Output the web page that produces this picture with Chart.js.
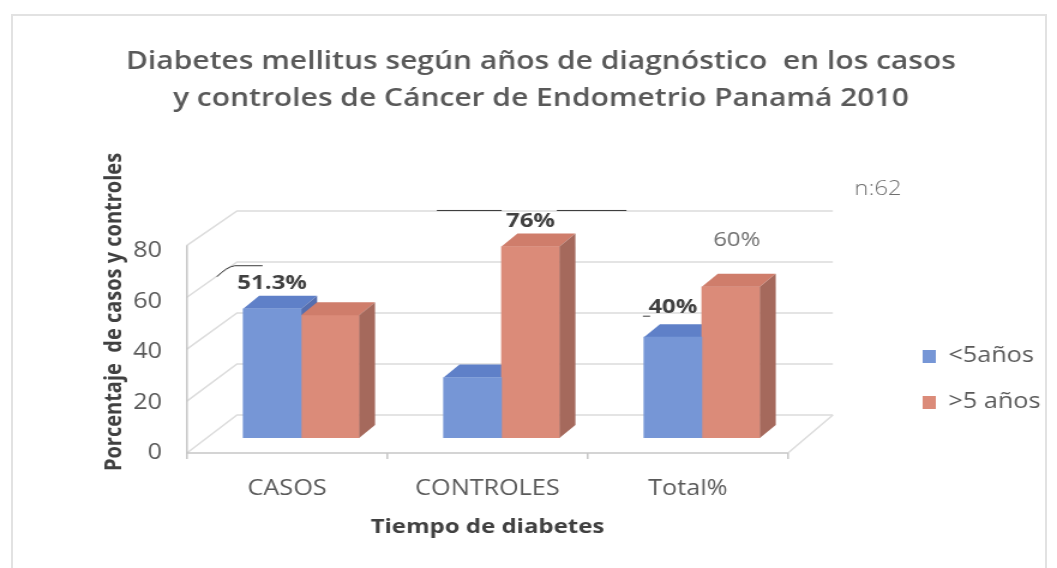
<!DOCTYPE html>
<html lang="es">
<head>
<meta charset="utf-8">
<title>Diabetes mellitus según años de diagnóstico</title>
<script src="https://cdn.jsdelivr.net/npm/chart.js@4.4.0/dist/chart.umd.min.js"></script>
<style>
  html, body { margin: 0; padding: 0; background: #fff; }
  #marco { position: relative; width: 1057px; height: 568px; overflow: hidden; }
  #borde { position: absolute; left: 11px; top: 14px; width: 1032px; height: 600px;
           border: 2px solid #e2e2e2; }
  #grafico { position: absolute; left: 0; top: 0; }
</style>
</head>
<body>
<div id="marco">
  <div id="borde"></div>
  <canvas id="grafico" width="881" height="568" style="width:1057px;height:568px"></canvas>
</div>
<script>
// datos del gráfico
const categorias = ['CASOS', 'CONTROLES', 'Total%'];
const nombresSeries = ['<5años', '>5 años'];
const menosDe5 = [51.3, 24, 40];
const masDe5 = [48.7, 76, 60];
const marcasY = [0, 20, 40, 60, 80];
const totalMuestra = 62;

// profundidad del efecto 3D
const DX = 13.3, DY = 13;

const caras = [
    { top: '#5f80c8', side: '#556eaf' },
    { top: '#cf7d6b', side: '#a5695c' }
];

function poligono(ctx, pts) {
    ctx.beginPath();
    ctx.moveTo(pts[0][0], pts[0][1]);
    for (let i = 1; i < pts.length; i++) ctx.lineTo(pts[i][0], pts[i][1]);
    ctx.closePath();
    ctx.fill();
}

function dibujarCaras(chart, di) {
    const ctx = chart.ctx;
    const meta = chart.getDatasetMeta(di);
    ctx.save();
    meta.data.forEach(bar => {
        const { x, y, base, width } = bar.getProps(['x', 'y', 'base', 'width'], true);
        const l = x - width / 2, r = x + width / 2;
        ctx.fillStyle = caras[di].top;
        poligono(ctx, [[l, y], [l + DX, y - DY], [r + DX, y - DY], [r, y]]);
        ctx.fillStyle = caras[di].side;
        poligono(ctx, [[r, y], [r + DX, y - DY], [r + DX, base - DY], [r, base]]);
    });
    ctx.restore();
}

// paredes, piso y rejilla en perspectiva
const paredes = {
    id: 'paredes',
    beforeDatasetsDraw(chart) {
        const { ctx, chartArea: a, scales: { x, y } } = chart;
        const yz = y.getPixelForValue(0);
        const frente = v => yz + 15 - (yz - y.getPixelForValue(v)) * 1.03;
        const fondo = v => yz - 23 - (yz - y.getPixelForValue(v)) * 1.012;
        const fx0 = a.left + 41.7, fx1 = a.right + 37.4;
        ctx.save();
        ctx.lineWidth = 1.5;
        ctx.strokeStyle = '#dcdcdc';
        marcasY.forEach(v => {
            ctx.beginPath();
            ctx.moveTo(a.left, frente(v));
            ctx.lineTo(fx0, fondo(v));
            ctx.lineTo(fx1, fondo(v));
            ctx.stroke();
        });
        ctx.beginPath();
        ctx.moveTo(fx1, fondo(0));
        ctx.lineTo(a.right, frente(0));
        ctx.stroke();
        ctx.strokeStyle = '#c6c6c6';
        ctx.beginPath();
        ctx.moveTo(a.right, frente(0));
        ctx.lineTo(a.left, frente(0));
        ctx.lineTo(a.left, frente(80));
        ctx.stroke();
        for (let k = 0; k <= categorias.length; k++) {
            const px = x.getPixelForValue(k - 0.5);
            ctx.beginPath();
            ctx.moveTo(px, frente(0));
            ctx.lineTo(px, frente(0) + 6);
            ctx.stroke();
        }
        ctx.restore();
    }
};

const barras3d = {
    id: 'barras3d',
    beforeDatasetDraw(chart, args) {
        if (args.index === 1) dibujarCaras(chart, 0);
    },
    afterDatasetDraw(chart, args) {
        if (args.index === 1) dibujarCaras(chart, 1);
    }
};

// etiquetas de porcentaje y nota n
const etiquetas = {
    id: 'etiquetas',
    afterDatasetsDraw(chart, args, opts) {
        const { ctx, chartArea: a } = chart;
        ctx.save();
        ctx.textAlign = 'center';
        ctx.textBaseline = 'middle';
        opts.items.forEach(it => {
            const bar = chart.getDatasetMeta(it.serie).data[it.idx];
            const valor = chart.data.datasets[it.serie].data[it.idx].y;
            const cx = bar.x + it.dx, cy = bar.y + it.dy;
            ctx.font = it.peso + ' 20px "Open Sans"';
            ctx.fillStyle = it.color;
            ctx.fillText(valor + '%', cx, cy);
            ctx.strokeStyle = '#3a3a3a';
            ctx.lineWidth = 1;
            ctx.beginPath();
            if (it.guia === 'curva') {
                ctx.moveTo(cx - 46, cy - 7);
                ctx.quadraticCurveTo(cx - 38, cy - 17, cx - 31, cy - 18);
                ctx.lineTo(cx - 8, cy - 18);
            } else if (it.guia === 'linea') {
                ctx.moveTo(cx - 78, cy - 11);
                ctx.lineTo(cx - 24, cy - 11);
                ctx.moveTo(cx + 22, cy - 11);
                ctx.lineTo(cx + 80, cy - 11);
            } else if (it.guia === 'corta') {
                ctx.moveTo(cx - 25, cy + 9);
                ctx.lineTo(cx - 19, cy + 9);
            }
            ctx.stroke();
        });
        ctx.font = '300 20px "Open Sans"';
        ctx.fillStyle = '#6f6f6f';
        ctx.fillText('n:' + totalMuestra, a.right + 75, a.top + 3);
        ctx.restore();
    }
};

const ctx = document.getElementById('grafico').getContext('2d');
Chart.defaults.font.family = '"Open Sans", sans-serif';
Chart.defaults.color = '#595959';

new Chart(ctx, {
    type: 'bar',
    data: {
        labels: categorias,
        datasets: [{
            label: nombresSeries[0],
            data: menosDe5.map((v, i) => ({ x: i, y: v })),
            backgroundColor: '#7696d6',
            xAxisID: 'xb'
        }, {
            label: nombresSeries[1],
            data: masDe5.map((v, i) => ({ x: i, y: v })),
            backgroundColor: '#db8b79',
            xAxisID: 'xb'
        }]
    },
    plugins: [paredes, barras3d, etiquetas],
    options: {
        responsive: false,
        devicePixelRatio: 1,
        animation: false,
        barThickness: 48.3,
        layout: { padding: { left: 24.6, right: 4, top: 0, bottom: 0 } },
        scales: {
            xb: {
                type: 'linear',
                display: false,
                offset: false,
                min: -0.57,
                max: 2.43
            },
            x: {
                type: 'category',
                labels: categorias,
                offset: true,
                grid: { display: false, drawTicks: false },
                border: { display: false },
                ticks: { font: { size: 21 }, color: '#595959', padding: 38, maxRotation: 0, autoSkip: false },
                title: {
                    display: true,
                    text: 'Tiempo de diabetes',
                    color: '#404040',
                    font: { size: 20, weight: 'bold' },
                    padding: { top: 15, bottom: 29 }
                },
                afterFit: s => { s.height = 130; }
            },
            y: {
                min: 0,
                max: 100,
                afterBuildTicks: s => { s.ticks = marcasY.map(v => ({ value: v })); },
                grid: { display: false, drawTicks: false },
                border: { display: false },
                ticks: { font: { size: 21 }, color: '#595959', padding: 20.8, labelOffset: 15 },
                title: {
                    display: true,
                    text: 'Porcentaje  de casos y controles',
                    color: '#404040',
                    font: { size: 20, weight: 'bold' },
                    padding: { top: 59, bottom: 3 }
                },
                afterFit: s => { s.width = 131.2; }
            },
            hueco: {
                type: 'linear',
                position: 'right',
                grid: { display: false, drawTicks: false },
                border: { display: false },
                ticks: { display: false },
                afterFit: s => { s.width = 87.2; }
            }
        },
        plugins: {
            title: {
                display: true,
                text: ['Diabetes mellitus según años de diagnóstico  en los casos',
                       'y controles de Cáncer de Endometrio Panamá 2010'],
                color: '#595959',
                font: { size: 25, weight: '600', lineHeight: 1.48 },
                padding: { top: 43.5, bottom: 68.5 }
            },
            legend: {
                position: 'right',
                align: 'end',
                fullSize: false,
                maxWidth: 133,
                labels: { boxWidth: 11, boxHeight: 13, padding: 25, font: { size: 21 }, color: '#595959' }
            },
            tooltip: { enabled: false },
            etiquetas: {
                items: [
                    { serie: 0, idx: 0, dx: 0, dy: -25, peso: 'bold', color: '#404040', guia: 'curva' },
                    { serie: 1, idx: 1, dx: 0, dy: -25, peso: 'bold', color: '#404040', guia: 'linea' },
                    { serie: 0, idx: 2, dx: 0, dy: -30, peso: 'bold', color: '#404040', guia: 'corta' },
                    { serie: 1, idx: 2, dx: 5, dy: -47, peso: 'normal', color: '#6f6f6f' }
                ]
            }
        }
    }
});
</script>
</body>
</html>
